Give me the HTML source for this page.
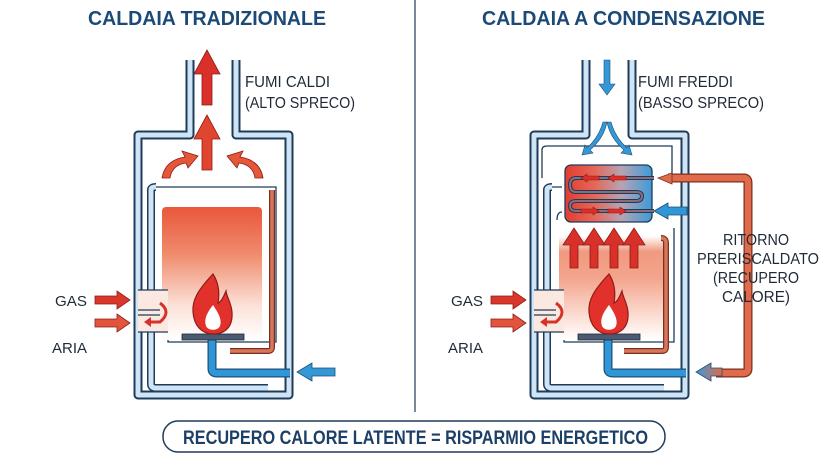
<!DOCTYPE html>
<html><head><meta charset="utf-8"><style>
html,body{margin:0;padding:0;background:#fff;}
svg{display:block;}
text{font-family:"Liberation Sans",sans-serif;}
</style></head><body>
<svg width="830" height="454" viewBox="0 0 830 454" xmlns="http://www.w3.org/2000/svg">
<defs>
<linearGradient id="fg" x1="0" y1="0" x2="0" y2="1">
<stop offset="0" stop-color="#e9573c"/><stop offset="0.35" stop-color="#f08a6c"/><stop offset="0.75" stop-color="#fbe3da"/><stop offset="1" stop-color="#fff"/>
</linearGradient>
<linearGradient id="fg2" x1="0" y1="0" x2="0" y2="1">
<stop offset="0" stop-color="#fff"/><stop offset="0.15" stop-color="#f09a80"/><stop offset="0.4" stop-color="#f3a48c"/><stop offset="0.85" stop-color="#fde9e2"/><stop offset="1" stop-color="#fff"/>
</linearGradient>
<linearGradient id="hx" x1="0" y1="0" x2="1" y2="0">
<stop offset="0" stop-color="#e53b30"/><stop offset="0.35" stop-color="#e36a5a"/><stop offset="0.65" stop-color="#b7a3b4"/><stop offset="1" stop-color="#3d9bd8"/>
</linearGradient>
<linearGradient id="rp" x1="0" y1="0" x2="1" y2="0">
<stop offset="0" stop-color="#3a9ad8"/><stop offset="1" stop-color="#e06a4a"/>
</linearGradient>
<g id="shell">
<path d="M190 60 V135 H138 V395 H289 V135 H236 V60" fill="none" stroke="#1f3b5a" stroke-width="9" stroke-linejoin="round"/>
<path d="M190 60 V135 H138 V395 H289 V135 H236 V60" fill="none" stroke="#cfe4f4" stroke-width="5" stroke-linejoin="round"/>
<path d="M151 300 V384 Q151 388 156 388 H268" fill="none" stroke="#1f3b5a" stroke-width="8"/>
<path d="M151 300 V384 Q151 388 156 388 H268" fill="none" stroke="#cfe4f4" stroke-width="5"/>
<path d="M151 292 V190 Q151 187 156 187" fill="none" stroke="#1f3b5a" stroke-width="8"/>
<path d="M151 292 V190 Q151 187 156 187" fill="none" stroke="#cfe4f4" stroke-width="5"/>
</g>
<g id="flame">
<path d="M213 274 C198 290 192 300 193 312 C194 326 202 334 213 334 C226 334 233 326 232 312 C231 302 227 298 226 291 C223 298 221 302 218 303 C220 292 218 282 213 274Z" fill="#e2312a" stroke="#8e1b17" stroke-width="1.2"/>
<path d="M213 305 C206 314 204 320 206 326 C208 331 218 331 220 326 C222 320 219 314 213 305Z" fill="#fff"/>
</g>
<g id="inlet">
<rect x="138" y="290" width="30" height="42" fill="#fbe8e0"/>
<path d="M168 290 H138 M168 332 H138" stroke="#1f3b5a" stroke-width="1.3"/>
<path d="M138 310 H160 M138 315 H160" stroke="#1f3b5a" stroke-width="1.2"/>
<path d="M160 303 Q172 312 160 322 L150 322" fill="none" stroke="#d5332a" stroke-width="3"/>
<path d="M144 322 L151 317 L151 327Z" fill="#d5332a"/>
<path d="M95 296 H117 V291 L130 300 L117 309 V304 H95Z" fill="#d9372c" stroke="#8e1b17" stroke-width="0.8"/>
<path d="M95 319 H117 V314 L130 323 L117 332 V327 H95Z" fill="#e2553c" stroke="#8e1b17" stroke-width="0.8"/>
<text x="55" y="306" font-size="15" fill="#1f2a38" textLength="32" lengthAdjust="spacingAndGlyphs">GAS</text>
<text x="52" y="353" font-size="15" fill="#1f2a38" textLength="35" lengthAdjust="spacingAndGlyphs">ARIA</text>
</g>
</defs>

<text x="88" y="25" font-size="20" font-weight="bold" fill="#1c4a78" textLength="238" lengthAdjust="spacingAndGlyphs">CALDAIA TRADIZIONALE</text>
<text x="482" y="25" font-size="20" font-weight="bold" fill="#1c4a78" textLength="283" lengthAdjust="spacingAndGlyphs">CALDAIA A CONDENSAZIONE</text>
<line x1="415" y1="0" x2="415" y2="412" stroke="#1f3b5a" stroke-width="1.2"/>

<!-- LEFT -->
<use href="#shell"/>
<path d="M156 187 H276 V342 H168 V332" fill="none" stroke="#1f3b5a" stroke-width="1.3"/>
<rect x="162" y="207" width="100" height="133" rx="4" fill="url(#fg)"/>
<path d="M272 190 V347 Q272 351 268 351 H230" fill="none" stroke="#7a2f22" stroke-width="6"/>
<path d="M272 190 V347 Q272 351 268 351 H230" fill="none" stroke="#d7775a" stroke-width="3.5"/>
<path d="M212 340 V369 Q212 373 217 373 H290" fill="none" stroke="#1f4f78" stroke-width="9"/>
<path d="M212 340 V369 Q212 373 217 373 H290" fill="none" stroke="#2f97d8" stroke-width="6.5"/>
<rect x="182" y="334" width="62" height="6" fill="#4a5a70" stroke="#1f2a38" stroke-width="0.8"/>
<use href="#flame"/>
<use href="#inlet"/>
<path d="M335 368 H312 V363 L297 372 L312 381 V376 H335Z" fill="#3497d6" stroke="#1f4f78" stroke-width="0.8"/>
<path d="M207 50 L194 74 H202 V105 H212 V74 H220Z" fill="#d9302a" stroke="#8e1b17" stroke-width="0.8"/>
<path d="M207 115 L194 139 H202 V170 H212 V139 H220Z" fill="#e0452f" stroke="#8e1b17" stroke-width="0.8"/>
<path d="M162 178 Q165 160 185 157 L182 151 L198 156 L188 168 L186 163 Q172 165 170 178Z" fill="#e45738" stroke="#8e1b17" stroke-width="0.8"/>
<path d="M263 178 Q260 160 240 157 L243 151 L227 156 L237 168 L239 163 Q253 165 255 178Z" fill="#e45738" stroke="#8e1b17" stroke-width="0.8"/>
<text x="245" y="87" font-size="16" fill="#1f2a38" textLength="85" lengthAdjust="spacingAndGlyphs">FUMI CALDI</text>
<text x="245" y="108" font-size="16" fill="#1f2a38" textLength="110" lengthAdjust="spacingAndGlyphs">(ALTO SPRECO)</text>

<!-- RIGHT -->
<g transform="translate(396,0)">
<use href="#shell"/>
<path d="M146 178 V150 Q146 146 151 146 H276 V178" fill="none" stroke="#1f3b5a" stroke-width="1.3"/>
<path d="M156 187 H166 M278 228 V342 H168 V332" fill="none" stroke="#1f3b5a" stroke-width="1.3"/>
<path d="M161 220 Q161 212 166 212" fill="none" stroke="#1f3b5a" stroke-width="1.3"/>
<rect x="163" y="236" width="105" height="104" fill="url(#fg2)"/>
<path d="M265 238 Q270 238 270 243 V347 Q270 351 266 351 H228" fill="none" stroke="#7a2f22" stroke-width="6"/>
<path d="M265 238 Q270 238 270 243 V347 Q270 351 266 351 H228" fill="none" stroke="#d7775a" stroke-width="3.5"/>
<path d="M212 340 V369 Q212 373 217 373 H290" fill="none" stroke="#1f4f78" stroke-width="9"/>
<path d="M212 340 V369 Q212 373 217 373 H290" fill="none" stroke="#2f97d8" stroke-width="6.5"/>
<rect x="182" y="334" width="62" height="6" fill="#4a5a70" stroke="#1f2a38" stroke-width="0.8"/>
<use href="#flame"/>
<use href="#inlet"/>
<g fill="#d9302a" stroke="#8e1b17" stroke-width="0.8">
<path d="M178 228 L167 245 H174 V268 H182 V245 H189Z"/>
<path d="M198 228 L187 245 H194 V268 H202 V245 H209Z"/>
<path d="M218 228 L207 245 H214 V268 H222 V245 H229Z"/>
<path d="M238 228 L227 245 H234 V268 H242 V245 H249Z"/>
</g>
<rect x="169" y="165" width="87" height="57" rx="6" fill="url(#hx)" stroke="#1f3b5a" stroke-width="1.3"/>
<path d="M258 178 H180 Q174 178 174 185 Q174 192 180 192 H240 Q246 192 246 196 Q246 201 240 201 H180 Q174 201 174 206 Q174 211 180 211 H258" fill="none" stroke="#1f3b5a" stroke-width="4"/>
<path d="M258 178 H180 Q174 178 174 185 Q174 192 180 192 H240 Q246 192 246 196 Q246 201 240 201 H180 Q174 201 174 206 Q174 211 180 211 H258" fill="none" stroke="#d98c8c" stroke-width="2" opacity="0.6"/>
<g fill="#d9302a" stroke="#8e1b17" stroke-width="0.6">
<path d="M185 178 L191 174 V176 H203 V180 H191 V182Z"/>
<path d="M212 178 L218 174 V176 H230 V180 H218 V182Z"/>
<path d="M203 211 L197 207 V209 H185 V213 H197 V215Z"/>
<path d="M230 211 L224 207 V209 H212 V213 H224 V215Z"/>
</g>
<path d="M291 207 H272 V203 L258 211 L272 219 V215 H291Z" fill="#2f97d8" stroke="#1f4f78" stroke-width="0.8"/>
<path d="M272 178 H348 Q352 178 352 183 V369 Q352 373 347 373 H320" fill="none" stroke="#7a2f22" stroke-width="9"/>
<path d="M272 178 H348 Q352 178 352 183 V369 Q352 373 347 373 H320" fill="none" stroke="#e06a4a" stroke-width="6.5"/>
<path d="M276 173 L262 178 L276 184Z" fill="#e06a4a" stroke="#7a2f22" stroke-width="0.8"/>
<path d="M326 368 H315 V363 L300 372 L315 381 V376 H326Z" fill="url(#rp)" stroke="#1f4f78" stroke-width="0.8"/>
<path d="M208 60 V84 H203 L211 95 L219 84 H214 V60Z" fill="#3497d6" stroke="#1f4f78" stroke-width="0.6"/>
<path d="M211 122 Q208 138 194 150 L197 153 L186 155 L189 145 L191 148 Q203 137 207 122Z" fill="#3497d6" stroke="#1f4f78" stroke-width="0.6"/>
<path d="M211 122 Q214 138 228 150 L225 153 L236 155 L233 145 L231 148 Q219 137 215 122Z" fill="#3497d6" stroke="#1f4f78" stroke-width="0.6"/>
<text x="242" y="87" font-size="16" fill="#1f2a38" textLength="95" lengthAdjust="spacingAndGlyphs">FUMI FREDDI</text>
<text x="242" y="108" font-size="16" fill="#1f2a38" textLength="126" lengthAdjust="spacingAndGlyphs">(BASSO SPRECO)</text>
<text x="360" y="245" font-size="16" fill="#1f2a38" text-anchor="middle" textLength="66" lengthAdjust="spacingAndGlyphs">RITORNO</text>
<text x="362" y="264" font-size="16" fill="#1f2a38" text-anchor="middle" textLength="122" lengthAdjust="spacingAndGlyphs">PRERISCALDATO</text>
<text x="360" y="283" font-size="16" fill="#1f2a38" text-anchor="middle" textLength="86" lengthAdjust="spacingAndGlyphs">(RECUPERO</text>
<text x="360" y="302" font-size="16" fill="#1f2a38" text-anchor="middle" textLength="68" lengthAdjust="spacingAndGlyphs">CALORE)</text>
</g>

<rect x="163" y="421" width="502" height="31" rx="15" fill="#fff" stroke="#1f3b5a" stroke-width="1.5"/>
<text x="183" y="444" font-size="19" font-weight="bold" fill="#1c3f66" textLength="465" lengthAdjust="spacingAndGlyphs">RECUPERO CALORE LATENTE = RISPARMIO ENERGETICO</text>
</svg>
</body></html>
